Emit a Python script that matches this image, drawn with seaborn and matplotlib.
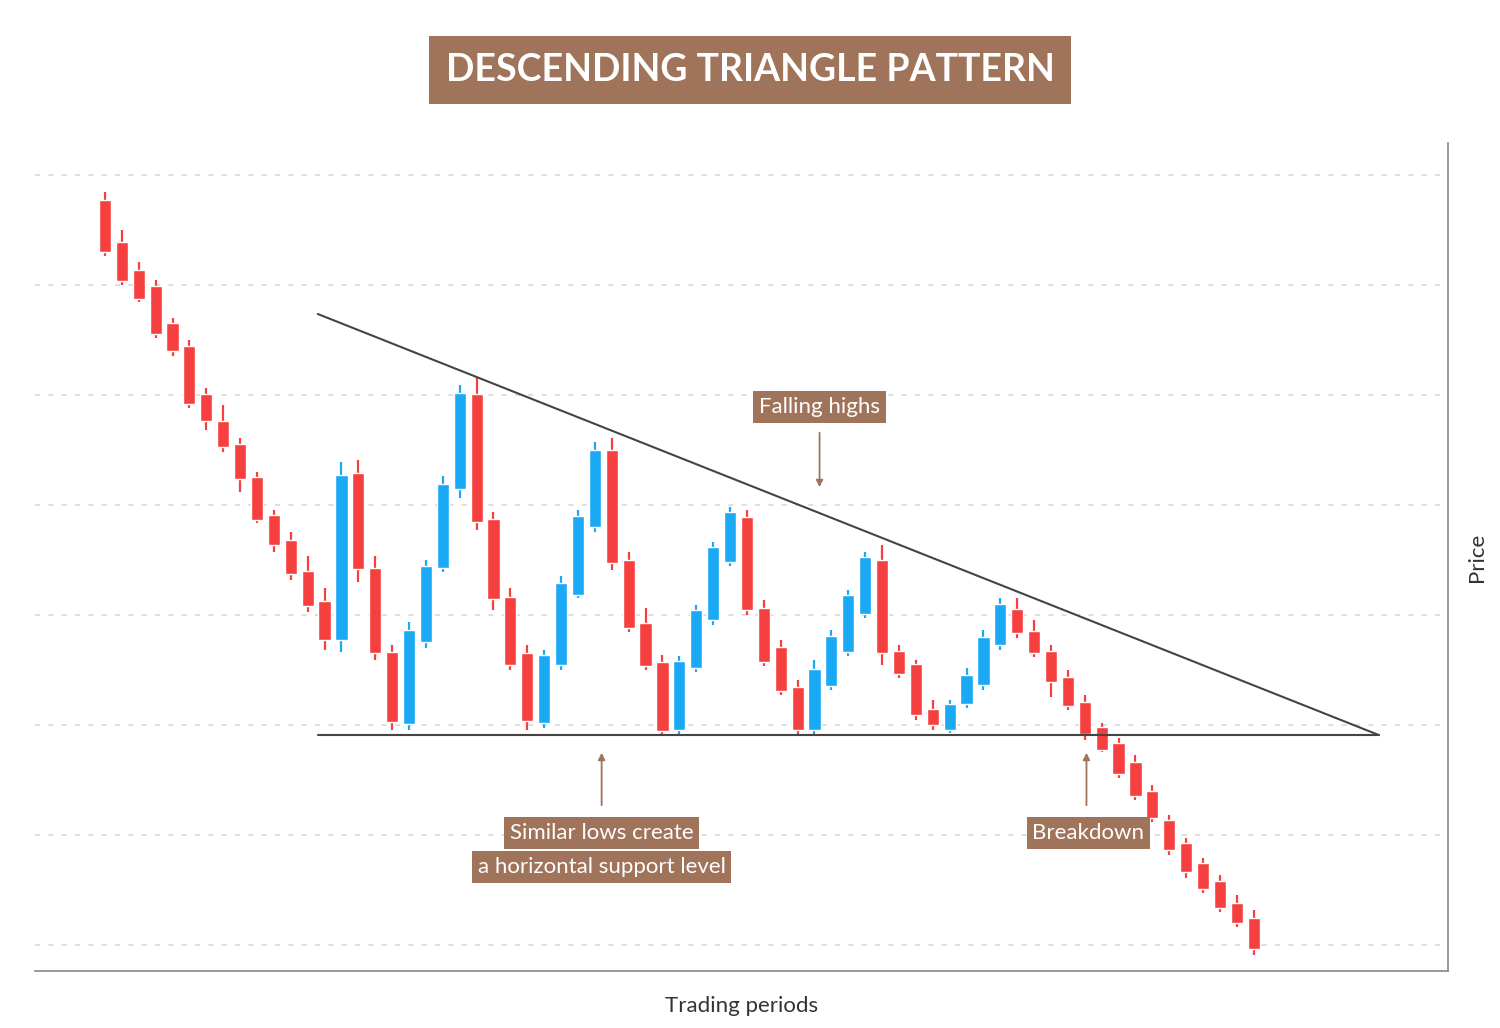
import matplotlib
matplotlib.use("Agg")
import matplotlib.pyplot as plt
import seaborn as sns
import numpy as np
import pandas as pd

# candle values (price units)
opens = [800,758,730,714,677,654,606,579,556,523,485,460,429,399,360,527,432,348,276,358,432,511,606,481,403,347,277,335,405,473,550,440,377,338,270,332,380,438,483,392,353,313,270,314,348,386,440,349,336,291,270,296,315,355,391,369,349,323,298,273,257,238,209,180,157,137,119,97,82]
closes = [748,719,701,666,649,596,579,553,521,480,455,426,394,360,525,431,347,278,370,434,516,607,478,401,335,279,345,417,484,550,437,372,334,269,339,390,453,488,390,338,309,270,331,364,405,443,347,326,285,275,296,325,363,396,367,347,318,294,266,250,226,204,182,150,128,111,92,77,51]
highs = [808,770,738,720,682,660,612,595,562,528,490,468,444,412,538,540,444,355,378,440,524,615,623,488,412,355,350,424,490,558,562,448,392,345,344,395,458,493,490,400,360,320,340,370,410,448,455,355,340,300,300,332,370,402,402,380,355,330,305,277,262,245,215,185,162,142,125,105,90]
lows = [744,715,698,662,644,592,570,548,508,477,448,420,388,350,348,418,340,270,270,352,428,502,470,390,330,270,272,330,402,468,430,368,330,265,265,328,375,434,385,334,305,265,265,310,344,382,335,322,280,270,267,292,310,350,362,343,303,290,260,248,222,200,178,145,122,107,88,73,45]
support_level = 265
upper_line = [(12.6, 686), (75.4, 265)]
support_span = (12.6, 75.4)
grid_levels = [825, 715, 605, 495, 385, 275, 165, 55]
title = "DESCENDING TRIANGLE PATTERN"

RED = "#f5403f"
BLUE = "#1aa9f5"
BROWN = "#a0745a"

sns.set_theme(style="white", font="Lato")
fig = plt.figure(figsize=(15, 10.28), dpi=100)
ax = fig.add_axes([35/1500, 1-971/1028, (1448-35)/1500, (971-143)/1028])

df = pd.DataFrame({"o": opens, "c": closes, "h": highs, "l": lows})
df["i"] = np.arange(len(df))
df["col"] = np.where(df.c >= df.o, BLUE, RED)

for y in grid_levels:
    ax.axhline(y, color="#d9d9d9", lw=1.2, ls=(0, (3, 5)), zorder=0)

ax.vlines(df.i, df.l, df.h, colors=df.col, lw=1.6, zorder=2)
ax.bar(df.i, (df.c - df.o).abs(), bottom=np.minimum(df.o, df.c), width=0.72,
       color=df.col, zorder=3)

ax.plot([p[0] for p in upper_line], [p[1] for p in upper_line], color="#444444", lw=1.5, zorder=4)
ax.plot(support_span, [support_level, support_level], color="#444444", lw=1.5, zorder=4)

box = dict(boxstyle="square,pad=0.25", fc=BROWN, ec="none")
ax.text(42.3, 593, "Falling highs", ha="center", va="center", fontsize=16, color="white", bbox=box)
ax.annotate("", xy=(42.3, 510), xytext=(42.3, 570),
            arrowprops=dict(arrowstyle="-|>", color=BROWN, lw=1.3, mutation_scale=10))
ax.text(29.4, 167, "Similar lows create", ha="center", va="center", fontsize=16, color="white", bbox=box)
ax.text(29.4, 133, "a horizontal support level", ha="center", va="center", fontsize=16, color="white", bbox=box)
ax.annotate("", xy=(29.4, 250), xytext=(29.4, 192),
            arrowprops=dict(arrowstyle="-|>", color=BROWN, lw=1.3, mutation_scale=10))
ax.text(58.2, 167, "Breakdown", ha="center", va="center", fontsize=16, color="white", bbox=box)
ax.annotate("", xy=(58.1, 250), xytext=(58.1, 192),
            arrowprops=dict(arrowstyle="-|>", color=BROWN, lw=1.3, mutation_scale=10))

ax.set_xlim(-4.14, 79.5)
ax.set_ylim(29, 857)
ax.set_xticks([]); ax.set_yticks([])
for s in ["top", "left"]:
    ax.spines[s].set_visible(False)
for s in ["bottom", "right"]:
    ax.spines[s].set_color("#888888"); ax.spines[s].set_linewidth(1.2)
ax.set_xlabel("Trading periods", fontsize=16, color="#333333", labelpad=18)
ax.yaxis.set_label_position("right")
ax.set_ylabel("Price", fontsize=16, color="#333333", labelpad=14)

fig.text(0.5, 1-70/1028, title, ha="center", va="center", fontsize=27, fontweight="bold",
         color="white", bbox=dict(boxstyle="square,pad=0.45", fc=BROWN, ec="none"))

fig.savefig("out.png", dpi=100, facecolor="white")
